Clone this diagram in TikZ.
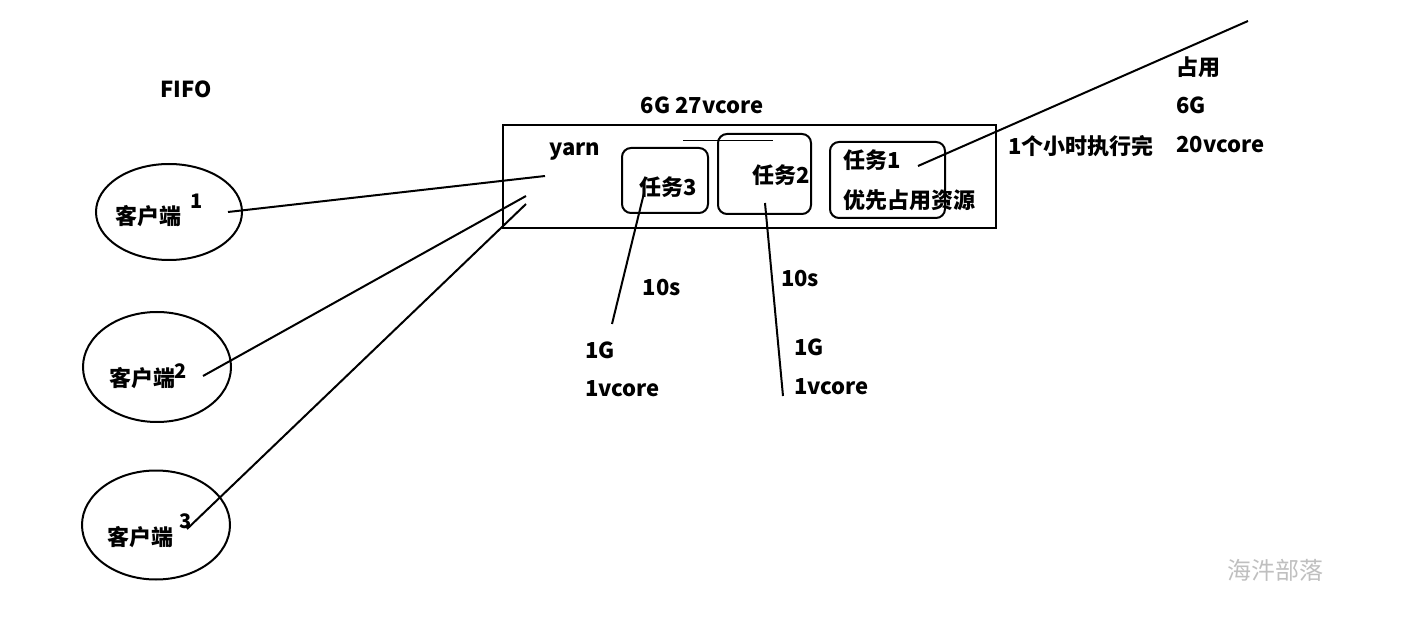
\documentclass[tikz,border=0pt]{standalone}
\usepackage{fontspec}
\setmainfont{Noto Sans CJK SC}
\usepackage{tikz}
\usetikzlibrary{shapes.geometric}

\begin{document}
\begin{tikzpicture}[x=1pt,y=-1pt,
  txt/.style={font=\fontsize{22}{24}\selectfont\bfseries,inner sep=0pt},
  sup/.style={font=\fontsize{20}{22}\selectfont\bfseries,inner sep=0pt},
  client/.style={draw,ellipse,line width=2pt,inner sep=0pt},
  task/.style={draw,rounded corners=9pt,line width=2pt},
  wire/.style={line width=2pt}]
\useasboundingbox (0,0) rectangle (1422,617);
\node[txt] (fifo) at (186,89) {FIFO};
% clients
\node[client,minimum width=146pt,minimum height=96pt] (c1) at (169,212) {};
\node[client,minimum width=148pt,minimum height=110pt] (c2) at (157,367) {};
\node[client,minimum width=148pt,minimum height=109pt] (c3) at (156,525) {};
\node[txt] (c1t) at (148,216) {客户端};
\node[sup] (c1n) at (197,201) {1};
\node[txt] (c2t) at (142,378) {客户端};
\node[sup] (c2n) at (181,371) {2};
\node[txt] (c3t) at (140,537) {客户端};
\node[sup] (c3n) at (186,521) {3};
% yarn
\node[draw,line width=2pt,minimum width=493pt,minimum height=103pt,inner sep=0pt] (yarnbox) at (749.5,176.5) {};
\node[txt] (res) at (702,105) {6G 27vcore};
\draw[line width=0.8pt] (683,140) -- (773,140);
\node[txt] (yarn) at (575,151) {yarn};
\node[task,minimum width=86pt,minimum height=65pt] (t3box) at (665,180.5) {};
\node[task,minimum width=93pt,minimum height=80pt] (t2box) at (764.5,174) {};
\node[task,minimum width=115pt,minimum height=76pt] (t1box) at (887.5,180) {};
\node[txt] (t3) at (668,187) {任务3};
\node[txt] (t2) at (781,175) {任务2};
\node[txt,anchor=west] (t1) at (843,160) {任务1};
\node[txt,anchor=west] (t1b) at (843,200) {优先占用资源};
% free ends
\coordinate (y1) at (545,176);
\coordinate (y2) at (526,196);
\coordinate (y3) at (526,204);
\coordinate (c1e) at (228,212);
\coordinate (c2e) at (203,376);
\coordinate (c3e) at (187,529);
\coordinate (t3s) at (644,193);
\coordinate (t3e) at (612,324);
\coordinate (t2s) at (765,203);
\coordinate (t2e) at (783,396);
\coordinate (t1s) at (918,166);
\coordinate (t1e) at (1248,21);
\draw[wire] (c1e) -- (y1);
\draw[wire] (c2e) -- (y2);
\draw[wire] (c3e) -- (y3);
\draw[wire] (t3s) -- (t3e);
\draw[wire] (t2s) -- (t2e);
\draw[wire] (t1s) -- (t1e);
% labels
\node[txt] (s3) at (662,288) {10s};
\node[txt] (s2) at (800,279) {10s};
\node[txt,anchor=west] (g3) at (585,350) {1G};
\node[txt,anchor=west] (v3) at (585,389) {1vcore};
\node[txt,anchor=west] (g2) at (794,347) {1G};
\node[txt,anchor=west] (v2) at (794,387) {1vcore};
\node[txt,anchor=west] (z1) at (1176,67) {占用};
\node[txt,anchor=west] (z2) at (1176,105) {6G};
\node[txt,anchor=west] (z3) at (1176,145) {20vcore};
\node[txt,anchor=west] (hour) at (1008,146) {1个小时执行完};
\node[font=\fontsize{24}{26}\selectfont,text=black!25,inner sep=0pt] (mark) at (1275,570) {海汼部落};
\end{tikzpicture}
\end{document}
